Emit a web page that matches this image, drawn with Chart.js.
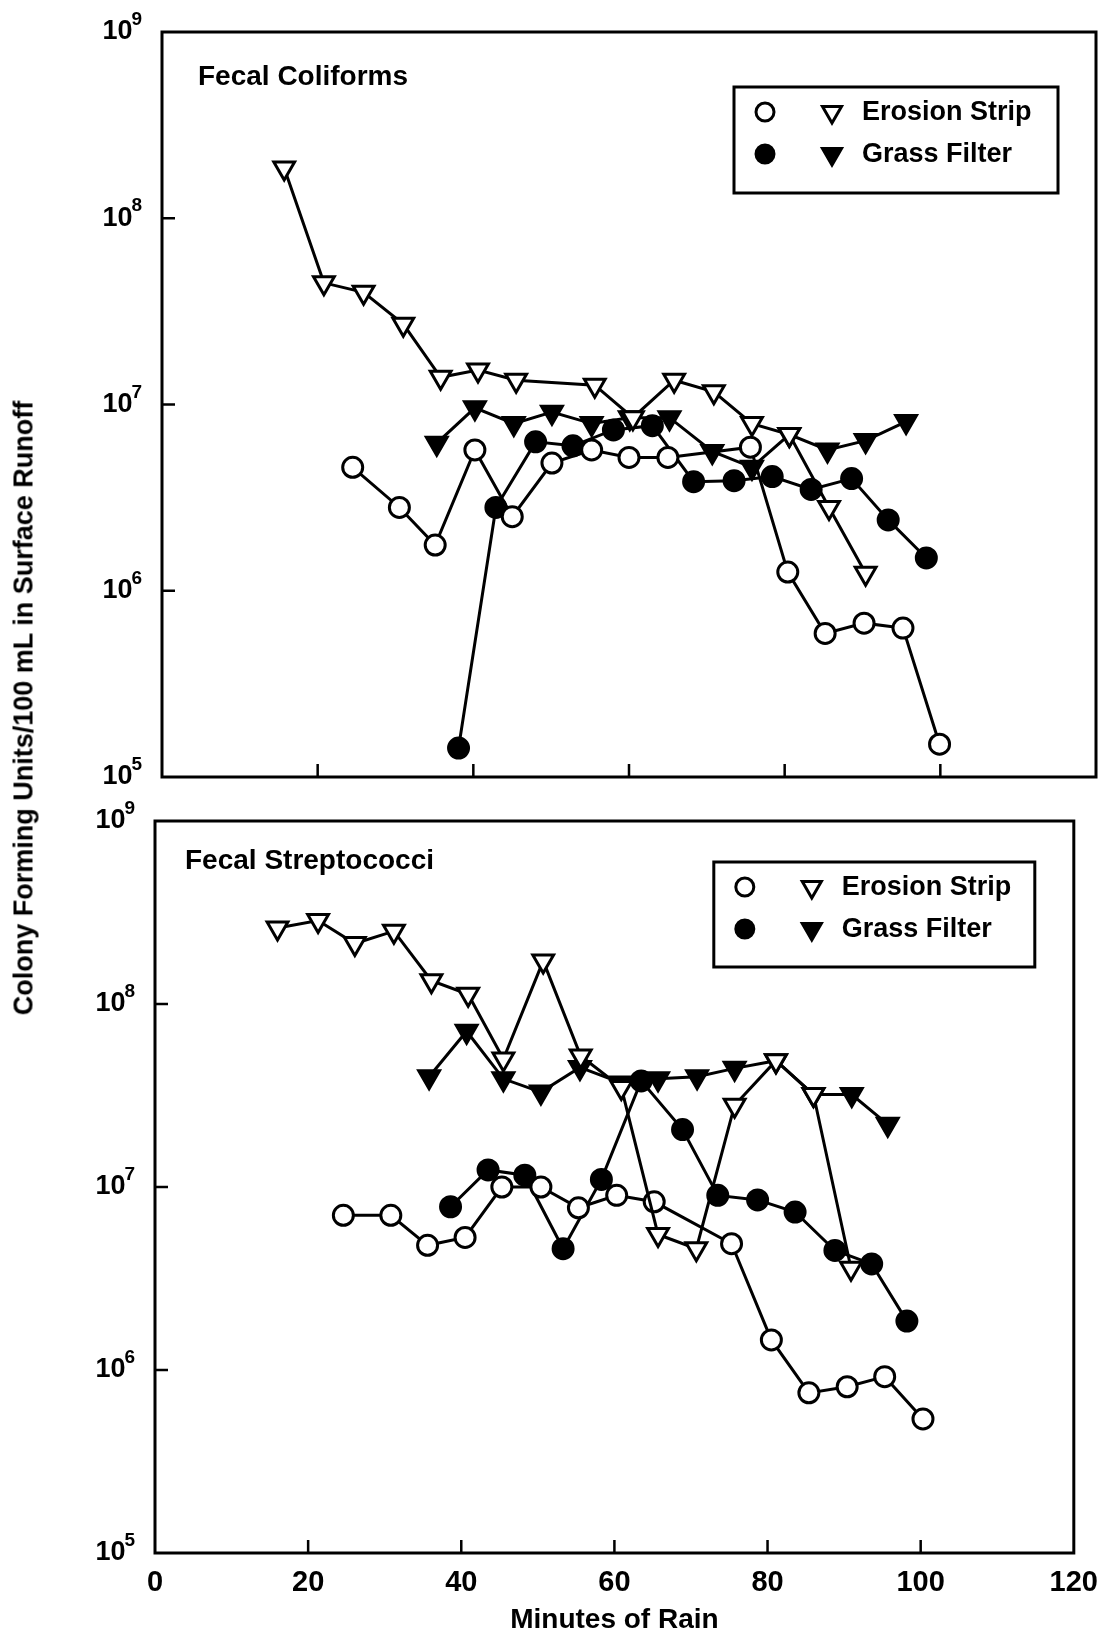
<!DOCTYPE html>
<html>
<head>
<meta charset="utf-8">
<title>Fecal Coliforms and Fecal Streptococci in Surface Runoff</title>
<script src="https://cdn.jsdelivr.net/npm/chart.js@4.4.1/dist/chart.umd.min.js"></script>
<style>
  html, body { margin: 0; padding: 0; background: #fff; }
  body { position: relative; width: 1111px; height: 1637px; overflow: hidden;
         font-family: 'Liberation Sans', Arial, Helvetica, sans-serif; }
  canvas { position: absolute; left: 0; }
  #topChart { top: 0; }
  #bottomChart { top: 790px; }
  #yTitle { position: absolute; left: 24px; top: 708px; transform: translate(-50%, -50%) rotate(-90deg);
            white-space: nowrap; font-weight: bold; font-size: 27px; color: #000; }
</style>
</head>
<body>
<canvas id="topChart" width="1111" height="800"></canvas>
<canvas id="bottomChart" width="1111" height="847"></canvas>
<div id="yTitle">Colony Forming Units/100 mL in Surface Runoff</div>
<script>
const FONT = "'Liberation Sans', Arial, Helvetica, sans-serif";

// axis ticks
const yPowers = [5, 6, 7, 8, 9];
const innerXTicks = [20, 40, 60, 80, 100];
const innerYTicks = [1e6, 1e7, 1e8];
const legendLabels = ['Erosion Strip', 'Grass Filter'];

// --- Fecal Coliforms (top panel) ---
const fcEroTriX = [15.7, 20.8, 25.9, 31.0, 35.8, 40.6, 45.5, 55.6, 60.5, 65.8, 70.9, 75.8, 80.6, 85.7, 90.4];
const fcEroTriY = [1.86e8, 4.5e7, 4.0e7, 2.7e7, 1.4e7, 1.53e7, 1.35e7, 1.27e7, 8.5e6, 1.35e7, 1.17e7, 7.9e6, 6.9e6, 2.8e6, 1.24e6];
const fcGrassTriX = [35.3, 40.2, 45.2, 50.1, 55.2, 60.1, 65.2, 70.7, 75.8, 80.6, 85.5, 90.4, 95.6];
const fcGrassTriY = [6.2e6, 9.6e6, 7.9e6, 9.1e6, 7.9e6, 8.5e6, 8.5e6, 5.6e6, 4.6e6, 6.9e6, 5.7e6, 6.4e6, 8.1e6];
const fcEroCircX = [24.5, 30.5, 35.1, 40.2, 45.0, 50.1, 55.2, 60.0, 65.0, 75.6, 80.4, 85.2, 90.2, 95.2, 99.9];
const fcEroCircY = [4.6e6, 2.8e6, 1.76e6, 5.7e6, 2.5e6, 4.85e6, 5.7e6, 5.2e6, 5.2e6, 5.9e6, 1.26e6, 5.9e5, 6.7e5, 6.3e5, 1.5e5];
const fcGrassCircX = [38.1, 42.9, 48.0, 52.8, 58.0, 63.0, 68.3, 73.5, 78.4, 83.4, 88.6, 93.3, 98.2];
const fcGrassCircY = [1.43e5, 2.8e6, 6.3e6, 6.0e6, 7.3e6, 7.7e6, 3.85e6, 3.9e6, 4.1e6, 3.5e6, 4.0e6, 2.4e6, 1.5e6];

// --- Fecal Streptococci (bottom panel) ---
const fsEroTriX = [16.0, 21.3, 26.1, 31.2, 36.1, 40.9, 45.5, 50.7, 55.6, 60.9, 65.7, 70.7, 75.7, 81.1, 86.0, 90.9];
const fsEroTriY = [2.6e8, 2.86e8, 2.14e8, 2.5e8, 1.34e8, 1.13e8, 5.0e7, 1.72e8, 5.2e7, 3.5e7, 5.5e6, 4.6e6, 2.8e7, 4.9e7, 3.2e7, 3.6e6];
const fsGrassTriX = [35.8, 40.7, 45.5, 50.4, 55.5, 60.9, 65.7, 70.8, 75.7, 81.1, 86.0, 91.0, 95.7];
const fsGrassTriY = [4.0e7, 7.1e7, 3.9e7, 3.3e7, 4.5e7, 3.7e7, 3.9e7, 4.0e7, 4.45e7, 4.9e7, 3.2e7, 3.2e7, 2.2e7];
const fsEroCircX = [24.6, 30.8, 35.6, 40.5, 45.3, 50.4, 55.3, 60.3, 65.2, 75.3, 80.5, 85.4, 90.4, 95.3, 100.3];
const fsEroCircY = [7.0e6, 7.0e6, 4.8e6, 5.3e6, 1.0e7, 1.0e7, 7.7e6, 9.0e6, 8.3e6, 4.9e6, 1.46e6, 7.5e5, 8.1e5, 9.2e5, 5.4e5];
const fsGrassCircX = [38.6, 43.5, 48.3, 53.3, 58.3, 63.5, 68.9, 73.5, 78.7, 83.6, 88.8, 93.6, 98.2];
const fsGrassCircY = [7.8e6, 1.24e7, 1.16e7, 4.6e6, 1.1e7, 3.8e7, 2.06e7, 9.0e6, 8.5e6, 7.3e6, 4.5e6, 3.8e6, 1.85e6];

function pts(xs, ys) {
    return xs.map((x, i) => ({ x: x, y: ys[i] }));
}

function series(label, xs, ys, shape, filled) {
    const tri = shape === 'tri';
    return {
        label: label,
        data: pts(xs, ys),
        showLine: true,
        borderColor: '#000',
        borderWidth: 3,
        pointStyle: tri ? 'triangle' : 'circle',
        pointRotation: tri ? 180 : 0,
        pointRadius: tri ? 12 : 10,
        pointBackgroundColor: filled ? '#000' : '#fff',
        pointBorderColor: '#000',
        pointBorderWidth: 3,
        tension: 0,
        clip: false
    };
}

// symbol used in the legend boxes, same look as the chart points
function drawMark(ctx, shape, filled, x, y, r) {
    ctx.beginPath();
    if (shape === 'circle') {
        ctx.arc(x, y, r, 0, Math.PI * 2);
    } else {
        const s = Math.sin(Math.PI / 3) * r;
        ctx.moveTo(x, y + r);
        ctx.lineTo(x - s, y - r / 2);
        ctx.lineTo(x + s, y - r / 2);
        ctx.closePath();
    }
    ctx.fillStyle = filled ? '#000' : '#fff';
    ctx.fill();
    ctx.lineWidth = 3;
    ctx.strokeStyle = '#000';
    ctx.stroke();
}

function drawPowerLabel(ctx, xRight, y, p) {
    ctx.fillStyle = '#000';
    ctx.textAlign = 'right';
    ctx.textBaseline = 'middle';
    ctx.font = 'bold 19px ' + FONT;
    const supW = ctx.measureText(String(p)).width;
    ctx.fillText(String(p), xRight, y - 12);
    ctx.font = 'bold 27px ' + FONT;
    ctx.fillText('10', xRight - supW + 1, y);
}

const panelDecor = {
    id: 'panelDecor',
    afterDatasetsDraw(chart, args, o) {
        const { ctx, chartArea: a, scales } = chart;
        const xs = scales.x, ys = scales.y;
        ctx.save();

        // box round the plot
        ctx.strokeStyle = '#000';
        ctx.lineWidth = 3;
        ctx.strokeRect(a.left, a.top, a.width, a.height);

        // inward tick marks
        ctx.lineWidth = 2.5;
        ctx.beginPath();
        innerXTicks.forEach(v => {
            const px = xs.getPixelForValue(v);
            ctx.moveTo(px, a.bottom);
            ctx.lineTo(px, a.bottom - 13);
        });
        innerYTicks.forEach(v => {
            const py = ys.getPixelForValue(v);
            ctx.moveTo(a.left, py);
            ctx.lineTo(a.left + 13, py);
        });
        ctx.stroke();

        // 10^n labels
        yPowers.forEach(p => drawPowerLabel(ctx, a.left - 20, ys.getPixelForValue(Math.pow(10, p)), p));

        // panel name
        ctx.fillStyle = '#000';
        ctx.textAlign = 'left';
        ctx.textBaseline = 'top';
        ctx.font = 'bold 28px ' + FONT;
        ctx.fillText(o.title, a.left + o.titleDx, a.top + o.titleDy);

        // legend
        const bw = o.legendW, bh = o.legendH;
        const bx = a.right - o.legendRight - bw, by = a.top + o.legendTop;
        ctx.lineWidth = 3;
        ctx.strokeStyle = '#000';
        ctx.fillStyle = '#fff';
        ctx.fillRect(bx, by, bw, bh);
        ctx.strokeRect(bx, by, bw, bh);
        legendLabels.forEach((lab, i) => {
            const ry = by + 25 + i * 42;
            const filled = i === 1;
            drawMark(ctx, 'circle', filled, bx + 31, ry, 9);
            drawMark(ctx, 'tri', filled, bx + 98, ry, 11);
            ctx.fillStyle = '#000';
            ctx.textAlign = 'left';
            ctx.textBaseline = 'middle';
            ctx.font = 'bold 27px ' + FONT;
            ctx.fillText(lab, bx + 128, ry + 1);
        });
        ctx.restore();
    }
};

function makePanel(canvasId, datasets, opts) {
    return new Chart(document.getElementById(canvasId), {
        type: 'scatter',
        data: { datasets: datasets },
        options: {
            responsive: false,
            animation: false,
            events: [],
            layout: { padding: opts.padding },
            plugins: {
                legend: { display: false },
                tooltip: { enabled: false },
                panelDecor: opts.decor
            },
            scales: {
                x: opts.x,
                y: {
                    type: 'logarithmic',
                    min: 1e5,
                    max: 1e9,
                    grid: { display: false },
                    border: { display: false },
                    ticks: { display: false },
                    afterFit: s => { s.width = opts.yWidth; }
                }
            }
        },
        plugins: [panelDecor]
    });
}

// --- Fecal Coliforms chart ---
makePanel('topChart', [
    series('Erosion Strip (triangle)', fcEroTriX, fcEroTriY, 'tri', false),
    series('Grass Filter (triangle)', fcGrassTriX, fcGrassTriY, 'tri', true),
    series('Erosion Strip (circle)', fcEroCircX, fcEroCircY, 'circle', false),
    series('Grass Filter (circle)', fcGrassCircX, fcGrassCircY, 'circle', true)
], {
    padding: { top: 32, right: 11, bottom: 23, left: 0 },
    yWidth: 162,
    x: { type: 'linear', min: 0, max: 120, display: false },
    decor: {
        title: 'Fecal Coliforms', titleDx: 36, titleDy: 31,
        legendW: 324, legendH: 106, legendRight: 38, legendTop: 55
    }
});

// --- Fecal Streptococci chart ---
makePanel('bottomChart', [
    series('Erosion Strip (triangle)', fsEroTriX, fsEroTriY, 'tri', false),
    series('Grass Filter (triangle)', fsGrassTriX, fsGrassTriY, 'tri', true),
    series('Erosion Strip (circle)', fsEroCircX, fsEroCircY, 'circle', false),
    series('Grass Filter (circle)', fsGrassCircX, fsGrassCircY, 'circle', true)
], {
    padding: { top: 31, right: 29, bottom: 0, left: 0 },
    yWidth: 155,
    x: {
        type: 'linear',
        min: 0,
        max: 120,
        grid: { display: false, drawTicks: false },
        border: { display: false },
        ticks: { stepSize: 20, padding: 13, color: '#000', font: { family: FONT, size: 29, weight: 'bold' } },
        title: {
            display: true,
            text: 'Minutes of Rain',
            color: '#000',
            font: { family: FONT, size: 28, weight: 'bold' },
            padding: { top: 2, bottom: 0 }
        },
        afterFit: s => { s.height = 84; }
    },
    decor: {
        title: 'Fecal Streptococci', titleDx: 30, titleDy: 26,
        legendW: 321, legendH: 105, legendRight: 39, legendTop: 41
    }
});
</script>
</body>
</html>
